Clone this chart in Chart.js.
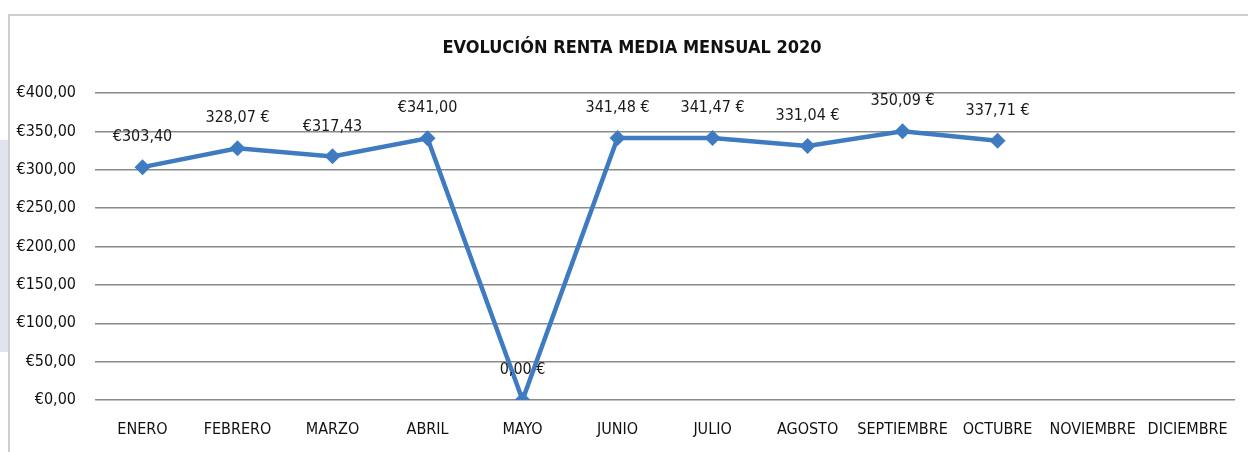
<!DOCTYPE html>
<html>
<head>
<meta charset="utf-8">
<script src="https://cdn.jsdelivr.net/npm/chart.js@4/dist/chart.umd.min.js"></script>
<style>
  html, body { margin: 0; padding: 0; background: #fff; overflow: hidden; }
  #wrap { position: relative; width: 1248px; height: 452px; }
  #strip { position: absolute; left: 0; top: 140px; width: 8px; height: 212px; background: #dfe4ef; }
  canvas { position: absolute; left: 0; top: 0; }
</style>
</head>
<body>
<div id="wrap">
  <div id="strip"></div>
  <canvas id="myChart" width="1248" height="452"></canvas>
</div>
<script>
  // Datos
  const meses = ['ENERO', 'FEBRERO', 'MARZO', 'ABRIL', 'MAYO', 'JUNIO', 'JULIO',
                 'AGOSTO', 'SEPTIEMBRE', 'OCTUBRE', 'NOVIEMBRE', 'DICIEMBRE'];
  const renta = [303.40, 328.07, 317.43, 341.00, 0.00, 341.48, 341.47, 331.04, 350.09, 337.71, null, null];
  const etiquetas = ['€303,40', '328,07 €', '€317,43', '€341,00', '0,00 €', '341,48 €', '341,47 €',
                     '331,04 €', '350,09 €', '337,71 €', '', ''];
  const tituloTexto = 'EVOLUCIÓN RENTA MEDIA MENSUAL 2020';

  const fuente = '"Liberation Sans Narrow", "DejaVu Sans Condensed", "Liberation Sans", sans-serif';

  // marco gris y titulo del grafico
  const marco = {
    id: 'marco',
    beforeDraw(chart) {
      const ctx = chart.ctx;
      ctx.save();
      ctx.strokeStyle = '#cfcfcf';
      ctx.lineWidth = 2;
      ctx.strokeRect(9, 15, 1300, 500);
      ctx.font = 'bold 18px ' + fuente;
      ctx.fillStyle = '#111';
      ctx.textAlign = 'center';
      ctx.textBaseline = 'middle';
      ctx.fillText(tituloTexto, 632, 48);
      ctx.restore();
    }
  };

  // etiquetas de datos encima de cada punto
  const etiquetasDatos = {
    id: 'etiquetasDatos',
    afterDatasetsDraw(chart) {
      const ctx = chart.ctx;
      const meta = chart.getDatasetMeta(0);
      ctx.save();
      ctx.font = '16px ' + fuente;
      ctx.fillStyle = '#1a1a1a';
      ctx.textAlign = 'center';
      ctx.textBaseline = 'middle';
      meta.data.forEach((p, i) => {
        if (renta[i] === null) return;
        ctx.fillText(etiquetas[i], p.x, p.y - 30);
      });
      ctx.restore();
    }
  };

  const ctx = document.getElementById('myChart').getContext('2d');
  const myChart = new Chart(ctx, {
    type: 'line',
    data: {
      labels: meses,
      datasets: [{
        data: renta,
        borderColor: '#3e7bc0',
        backgroundColor: '#3e7bc0',
        borderWidth: 4.5,
        pointStyle: 'rectRot',
        pointRadius: 8,
        pointBorderWidth: 0,
        tension: 0,
        spanGaps: false
      }]
    },
    options: {
      responsive: false,
      animation: false,
      layout: { padding: { left: 0, right: 2, top: 93, bottom: 0 } },
      plugins: {
        legend: { display: false },
        tooltip: { enabled: false },
        title: { display: false }
      },
      scales: {
        x: {
          offset: true,
          grid: { display: false, drawTicks: false },
          border: { display: false },
          ticks: {
            color: '#111',
            font: { family: fuente, size: 16 },
            padding: 20,
            maxRotation: 0,
            autoSkip: false
          },
          afterFit(scale) { scale.height = 52; }
        },
        y: {
          min: 0,
          max: 400,
          grid: { color: '#8a8a8a', lineWidth: 1.5, drawTicks: false },
          border: { display: false },
          ticks: {
            stepSize: 50,
            color: '#111',
            font: { family: fuente, size: 16 },
            padding: 19,
            callback: v => '€' + v.toFixed(2).replace('.', ',')
          },
          afterFit(scale) { scale.width = 95; }
        }
      }
    },
    plugins: [marco, etiquetasDatos]
  });
</script>
</body>
</html>
